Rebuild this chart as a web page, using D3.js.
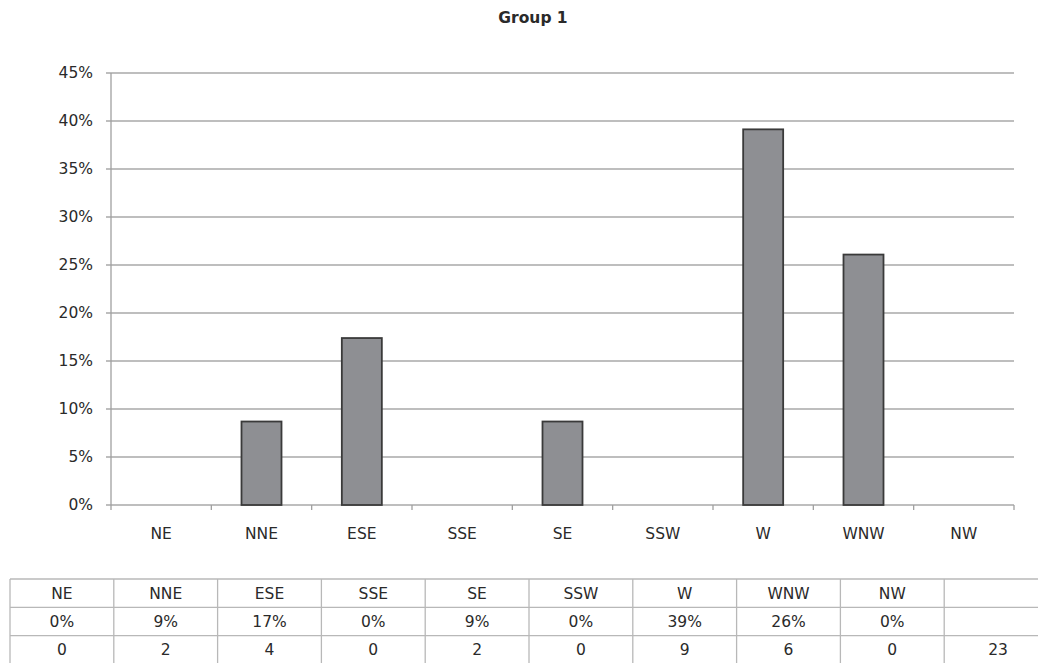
<!DOCTYPE html>
<html>
<head>
<meta charset="utf-8">
<script src="https://cdn.jsdelivr.net/npm/d3@7"></script>
<style>
  html, body { margin: 0; padding: 0; background: #fff; }
  svg { display: block; font-family: "DejaVu Sans", sans-serif; }
</style>
</head>
<body>
<svg id="chart" width="1038" height="663"></svg>
<script>
// Wind direction frequencies, Group 1
const categories = ["NE", "NNE", "ESE", "SSE", "SE", "SSW", "W", "WNW", "NW"];
const counts = [0, 2, 4, 0, 2, 0, 9, 6, 0];
const total = 23;
const shares = counts.map(c => c / total * 100);
const yTicks = [0, 5, 10, 15, 20, 25, 30, 35, 40, 45];

const svg = d3.select("#chart");
const textColor = "#2a2a2a";
const labelSize = 15.5;

const plot = { left: 111, right: 1014, top: 73, bottom: 505 };

const x = d3.scaleBand()
  .domain(categories)
  .range([plot.left, plot.right])
  .paddingInner(0)
  .paddingOuter(0);

const y = d3.scaleLinear()
  .domain([0, 45])
  .range([plot.bottom, plot.top]);

// Title
svg.append("text")
  .attr("x", 533).attr("y", 23)
  .attr("text-anchor", "middle")
  .attr("font-size", 15.5).attr("font-weight", "bold")
  .attr("fill", textColor)
  .text("Group 1");

// Horizontal gridlines with left tick marks
svg.append("g")
  .selectAll("line")
  .data(yTicks)
  .join("line")
  .attr("x1", plot.left - 5).attr("x2", plot.right)
  .attr("y1", d => y(d)).attr("y2", d => y(d))
  .attr("stroke", "#a9a9a9").attr("stroke-width", 1.3);

// Y tick labels
svg.append("g")
  .selectAll("text")
  .data(yTicks)
  .join("text")
  .attr("x", plot.left - 18)
  .attr("y", d => y(d))
  .attr("dy", "0.35em")
  .attr("text-anchor", "end")
  .attr("font-size", labelSize)
  .attr("fill", textColor)
  .text(d => d + "%");

// Y axis line
svg.append("line")
  .attr("x1", plot.left).attr("x2", plot.left)
  .attr("y1", plot.top).attr("y2", plot.bottom)
  .attr("stroke", "#a0a0a0").attr("stroke-width", 1.3);

// X axis: tick marks at category boundaries, labels at band centres
const boundaries = categories.map(c => x(c)).concat([plot.right]);
svg.append("g")
  .selectAll("line")
  .data(boundaries)
  .join("line")
  .attr("x1", d => d).attr("x2", d => d)
  .attr("y1", plot.bottom).attr("y2", plot.bottom + 5)
  .attr("stroke", "#a0a0a0").attr("stroke-width", 1.3);

svg.append("g")
  .selectAll("text")
  .data(categories)
  .join("text")
  .attr("x", d => x(d) + x.bandwidth() / 2)
  .attr("y", 534)
  .attr("dy", "0.35em")
  .attr("text-anchor", "middle")
  .attr("font-size", labelSize)
  .attr("fill", textColor)
  .text(d => d);

// Bars
const barW = 40;
svg.append("g")
  .selectAll("rect")
  .data(categories.map((c, i) => ({ c, v: shares[i] })).filter(d => d.v > 0))
  .join("rect")
  .attr("x", d => x(d.c) + x.bandwidth() / 2 - barW / 2)
  .attr("y", d => y(d.v))
  .attr("width", barW)
  .attr("height", d => y(0) - y(d.v))
  .attr("fill", "#8e8f93")
  .attr("stroke", "#3a3a3a")
  .attr("stroke-width", 1.8);

// Data table under the chart
const table = { left: 10, colW: 103.8, top: 579, rowH: 28.3 };
const pctLabels = shares.map(v => Math.round(v) + "%");
const rows = [
  categories.concat([""]),
  pctLabels.concat([""]),
  counts.map(String).concat([String(total)])
];
const nCols = categories.length + 1;
const tableRight = table.left + table.colW * nCols;
const tg = svg.append("g");

// Horizontal rules
d3.range(rows.length + 1).forEach(r => {
  tg.append("line")
    .attr("x1", table.left).attr("x2", tableRight)
    .attr("y1", table.top + r * table.rowH).attr("y2", table.top + r * table.rowH)
    .attr("stroke", "#b8b8b8").attr("stroke-width", 1.3);
});
// Vertical rules
d3.range(nCols + 1).forEach(c => {
  tg.append("line")
    .attr("x1", table.left + c * table.colW).attr("x2", table.left + c * table.colW)
    .attr("y1", table.top).attr("y2", table.top + rows.length * table.rowH)
    .attr("stroke", "#b8b8b8").attr("stroke-width", 1.3);
});
// Cell text
rows.forEach((row, r) => {
  tg.append("g")
    .selectAll("text")
    .data(row)
    .join("text")
    .attr("x", (d, c) => table.left + c * table.colW + table.colW / 2 + (c === nCols - 1 ? 2 : 0))
    .attr("y", table.top + r * table.rowH + table.rowH / 2)
    .attr("dy", "0.35em")
    .attr("text-anchor", "middle")
    .attr("font-size", labelSize)
    .attr("fill", textColor)
    .text(d => d);
});
</script>
</body>
</html>
